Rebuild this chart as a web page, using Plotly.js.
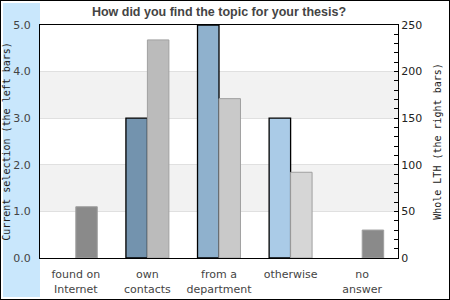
<!DOCTYPE html>
<html><head><meta charset="utf-8">
<script src="https://cdn.plot.ly/plotly-3.0.1.min.js"></script>
<style>
html,body{margin:0;padding:0;background:#fff;}
#wrap{width:450px;height:300px;box-sizing:border-box;border:1px solid #000;}
#chart{width:448px;height:298px;}
</style></head>
<body><div id="wrap"><div id="chart"></div></div>
<script>
const categories = ["found on<br>Internet", "own<br>contacts", "from a<br>department", "otherwise", "no<br>answer"];
const currentSelection = [0, 3, 5, 3, 0];
const wholeLTH = [55, 234, 171, 92, 30];
const leftColors = ["#7393ae", "#7393ae", "#8fb1cd", "#aacbe7", "#aacbe7"];
const leftOutline = [0, 1.3, 1.3, 1.3, 0];
const rightColors = ["#8a8a8a", "#bbbbbb", "#c9c9c9", "#d6d6d6", "#8a8a8a"];
const leftTicks = [0, 1, 2, 3, 4, 5];

const traces = [
  {type:"bar", x:categories, y:currentSelection, yaxis:"y", width:0.3, offset:-0.3,
   marker:{color:leftColors, line:{color:"#000", width:leftOutline}}, hoverinfo:"skip"},
  {type:"bar", x:categories, y:wholeLTH, yaxis:"y2", width:0.3, offset:0,
   marker:{color:rightColors, line:{color:"#a0a0a0", width:1}}, hoverinfo:"skip"}
];

const layout = {
  width:448, height:298,
  margin:{l:39, r:51, t:24, b:41},
  paper_bgcolor:"rgba(0,0,0,0)", plot_bgcolor:"#fff",
  showlegend:false,
  title:{text:"How did you find the topic for your thesis?", x:0.5, xref:"paper", y:0.98, yanchor:"top",
         font:{family:"Liberation Sans, Arial, sans-serif", size:12.5, color:"#444", weight:"bold"}},
  xaxis:{showline:true, linecolor:"#000", linewidth:1, mirror:true, ticks:"", showgrid:false,
         ticklabelstandoff:6,
         tickfont:{family:"DejaVu Sans", size:11, color:"#444"}, fixedrange:true},
  yaxis:{range:[0,5], tickvals:leftTicks, tickformat:".1f", showline:true, linecolor:"#000", linewidth:1,
         showgrid:true, gridcolor:"#e0e0e0", zeroline:false, ticks:"", ticklabelstandoff:6,
         tickfont:{family:"DejaVu Sans", size:11, color:"#444"},
         title:{text:"Current selection (the left bars)", standoff:2,
                font:{family:"DejaVu Sans Mono", size:10, color:"#222"}}},
  yaxis2:{range:[0,250], overlaying:"y", side:"right", dtick:50, ticks:"inside", ticklen:4, tickcolor:"#000",
          minor:{dtick:10, ticks:"inside", ticklen:4, tickcolor:"#000"},
          showline:true, linecolor:"#000", linewidth:1, showgrid:false, zeroline:false,
          tickfont:{family:"DejaVu Sans", size:11, color:"#222"},
          title:{text:"Whole LTH (the right bars)", standoff:12,
                 font:{family:"DejaVu Sans Mono", size:10, color:"#222"}}},
  shapes:[
    {type:"rect", xref:"paper", yref:"paper", x0:-0.1034, x1:0, y0:-0.1674, y1:1.0944,
     fillcolor:"#c9e7fc", line:{width:0}, layer:"below"},
    {type:"rect", xref:"paper", yref:"y", x0:0, x1:1, y0:1, y1:2, fillcolor:"#f2f2f2", line:{width:0}, layer:"below"},
    {type:"rect", xref:"paper", yref:"y", x0:0, x1:1, y0:3, y1:4, fillcolor:"#f2f2f2", line:{width:0}, layer:"below"}
  ]
};
Plotly.newPlot("chart", traces, layout, {displayModeBar:false, staticPlot:true});
</script></body></html>
